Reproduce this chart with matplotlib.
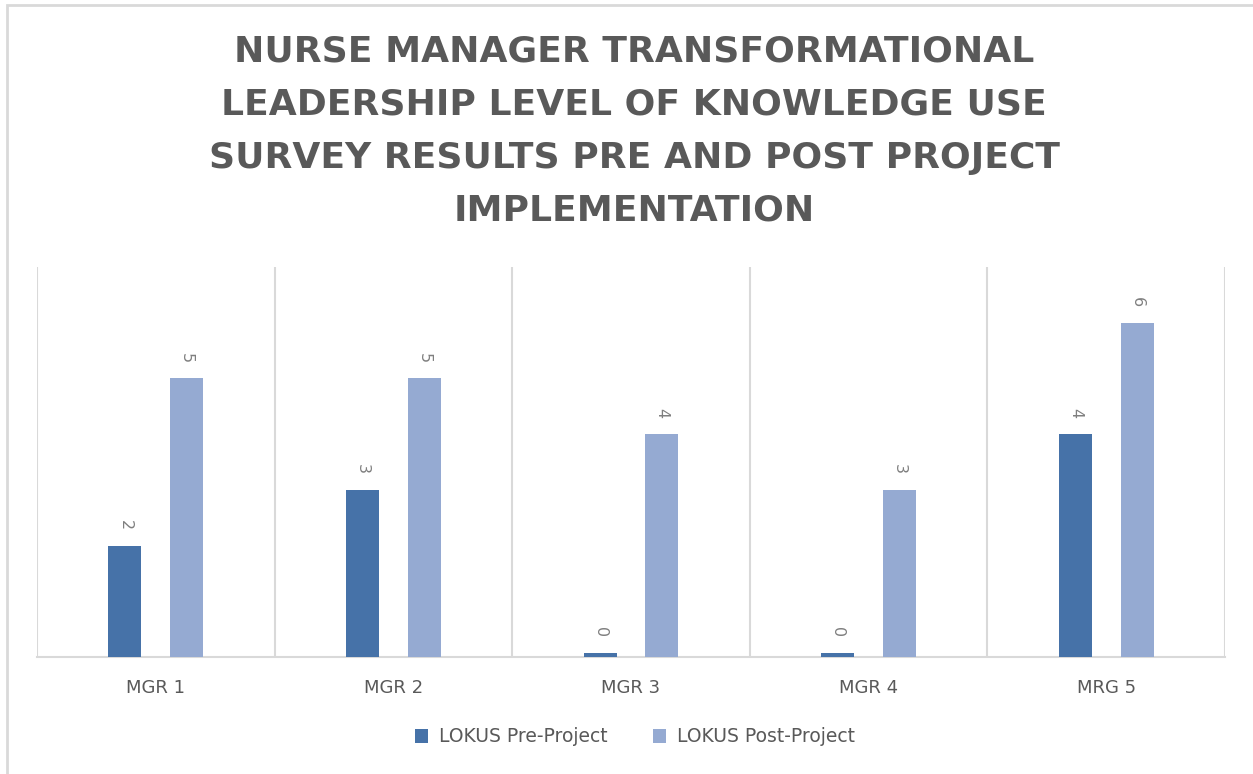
import matplotlib
matplotlib.use("Agg")
import matplotlib.pyplot as plt
import numpy as np

plt.rcParams.update({
    "font.family": ["DejaVu Sans"],
})

# ── data ─────────────────────────────────────────────────────────────────────
MANAGERS = ["MGR 1", "MGR 2", "MGR 3", "MGR 4", "MRG 5"]
PRE  = [2, 3, 0.08, 0.08, 4]   # zero bars are drawn as a thin sliver in the source
POST = [5, 5, 4, 3, 6]
SERIES = ["LOKUS Pre-Project", "LOKUS Post-Project"]

TITLE = ("NURSE MANAGER TRANSFORMATIONAL\n"
         "LEADERSHIP LEVEL OF KNOWLEDGE USE\n"
         "SURVEY RESULTS PRE AND POST PROJECT\n"
         "IMPLEMENTATION")

C_PRE  = "#4672A8"
C_POST = "#95AAD2"
C_TEXT = "#595959"
C_GRID = "#D9D9D9"

fig = plt.figure(figsize=(12.53, 7.74), dpi=100)

# chart frame (only top/left edges show in the source crop)
fig.add_artist(plt.Rectangle((7 / 1253, -0.1), 1.2, (774 - 5) / 774 + 0.1,
                             transform=fig.transFigure, fill=False,
                             edgecolor=C_GRID, linewidth=2.0))

ax = fig.add_axes([37 / 1253, (774 - 657) / 774,
                   (1225 - 37) / 1253, (657 - 267) / 774])

x = np.arange(len(MANAGERS))
w = 0.139
off = 0.13
b1 = ax.bar(x - off, PRE,  width=w, color=C_PRE,  label=SERIES[0], zorder=3)
b2 = ax.bar(x + off, POST, width=w, color=C_POST, label=SERIES[1], zorder=3)

for bars in (b1, b2):
    for r in bars:
        ax.annotate(f"{r.get_height():.0f}",
                    (r.get_x() + r.get_width() / 2, r.get_height()),
                    xytext=(0, 15), textcoords="offset points",
                    ha="center", va="center", rotation=-90,
                    fontsize=11.5, color="#7F7F7F")

ax.set_xlim(-0.5, len(MANAGERS) - 0.5)
ax.set_ylim(0, 7)
ax.set_yticks([])
ax.set_xticks(x)
ax.set_xticklabels(MANAGERS, fontsize=13, color=C_TEXT)
ax.tick_params(axis="x", length=0, pad=16)
ax.set_xticks(np.arange(-0.5, len(MANAGERS), 1.0), minor=True)
ax.tick_params(axis="x", which="minor", length=0)
ax.grid(True, which="minor", axis="x", color=C_GRID, linewidth=1.5, zorder=0)
for s in ["top", "left", "right"]:
    ax.spines[s].set_visible(False)
ax.spines["bottom"].set_color(C_GRID)
ax.spines["bottom"].set_linewidth(1.5)

fig.text(0.506, 0.955, TITLE, ha="center", va="top",
         fontsize=26, fontweight="bold", color=C_TEXT, linespacing=1.7)

fig.legend(handles=[b1, b2], labels=SERIES, loc="center",
           bbox_to_anchor=(0.507, (774 - 737) / 774), ncol=2, frameon=False,
           fontsize=13.5, labelcolor=C_TEXT, handlelength=0.7, handleheight=0.7,
           handletextpad=0.6, columnspacing=2.4)

fig.savefig("out.png", dpi=100)
